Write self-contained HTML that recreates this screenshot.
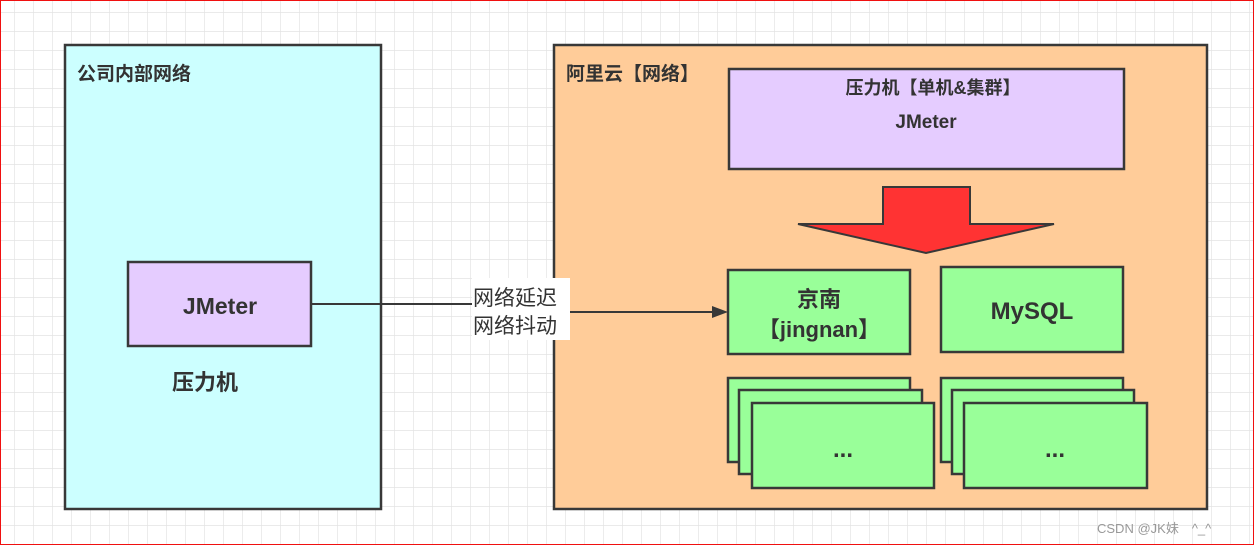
<!DOCTYPE html>
<html><head><meta charset="utf-8"><style>
body{margin:0;}
svg{display:block;}
text{font-family:"Liberation Sans","Noto Sans CJK SC",sans-serif;fill:#333;}
</style></head><body>
<svg width="1254" height="545" xmlns="http://www.w3.org/2000/svg">
<defs>
<pattern id="g" x="14" y="12" width="19" height="19" patternUnits="userSpaceOnUse">
<path d="M0 0H19M0 0V19" stroke="#e3e3e3" stroke-width="1.4" fill="none"/>
</pattern>
</defs>
<rect width="1254" height="545" fill="#fff"/>
<rect width="1254" height="545" fill="url(#g)"/>
<rect x="0.5" y="0.5" width="1253" height="544" fill="none" stroke="#f01010" stroke-width="1"/>
<g stroke="#383838" stroke-width="2.5">
<rect x="65" y="45" width="316" height="464" fill="#ccffff"/>
<rect x="554" y="45" width="653" height="464" fill="#ffcc99"/>
<rect x="128" y="262" width="183" height="84" fill="#e5ccff"/>
<rect x="729" y="69" width="395" height="100" fill="#e5ccff"/>
<polygon points="883,187 970,187 970,224 1054,224 926,253 798,224 883,224" fill="#ff3333" stroke-width="2"/>
<rect x="728" y="270" width="182" height="84" fill="#99ff99"/>
<rect x="941" y="267" width="182" height="85" fill="#99ff99"/>
<rect x="728" y="378" width="182" height="84" fill="#99ff99"/>
<rect x="739" y="390" width="183" height="84" fill="#99ff99"/>
<rect x="752" y="403" width="182" height="85" fill="#99ff99"/>
<rect x="941" y="378" width="182" height="84" fill="#99ff99"/>
<rect x="952" y="390" width="182" height="84" fill="#99ff99"/>
<rect x="964" y="403" width="183" height="85" fill="#99ff99"/>
<polyline points="311,304 520,304 520,312 716,312" fill="none" stroke-width="2"/>
</g>
<polygon points="728,312 712,306 712,318" fill="#383838"/>
<rect x="472" y="278" width="98" height="62" fill="#fff"/>
<text x="473" y="305" font-size="21">网络延迟</text>
<text x="473" y="333" font-size="21">网络抖动</text>
<g font-weight="bold">
<text x="77" y="80" font-size="19">公司内部网络</text>
<text x="566" y="80" font-size="19">阿里云【网络】</text>
<text x="220" y="314" font-size="23" text-anchor="middle">JMeter</text>
<text x="205" y="390" font-size="22" text-anchor="middle">压力机</text>
<text x="933" y="94" font-size="18" text-anchor="middle">压力机【单机&amp;集群】</text>
<text x="926" y="128" font-size="19" text-anchor="middle">JMeter</text>
<text x="819" y="307" font-size="22" text-anchor="middle">京南</text>
<text x="819" y="337" font-size="22" text-anchor="middle">【jingnan】</text>
<text x="1032" y="319" font-size="24" text-anchor="middle">MySQL</text>
<text x="843" y="457" font-size="24" text-anchor="middle">...</text>
<text x="1055" y="457" font-size="24" text-anchor="middle">...</text>
</g>
<text x="1097" y="533" font-size="13" style="fill:#999">CSDN @JK妹　^_^</text>
</svg>
</body></html>
